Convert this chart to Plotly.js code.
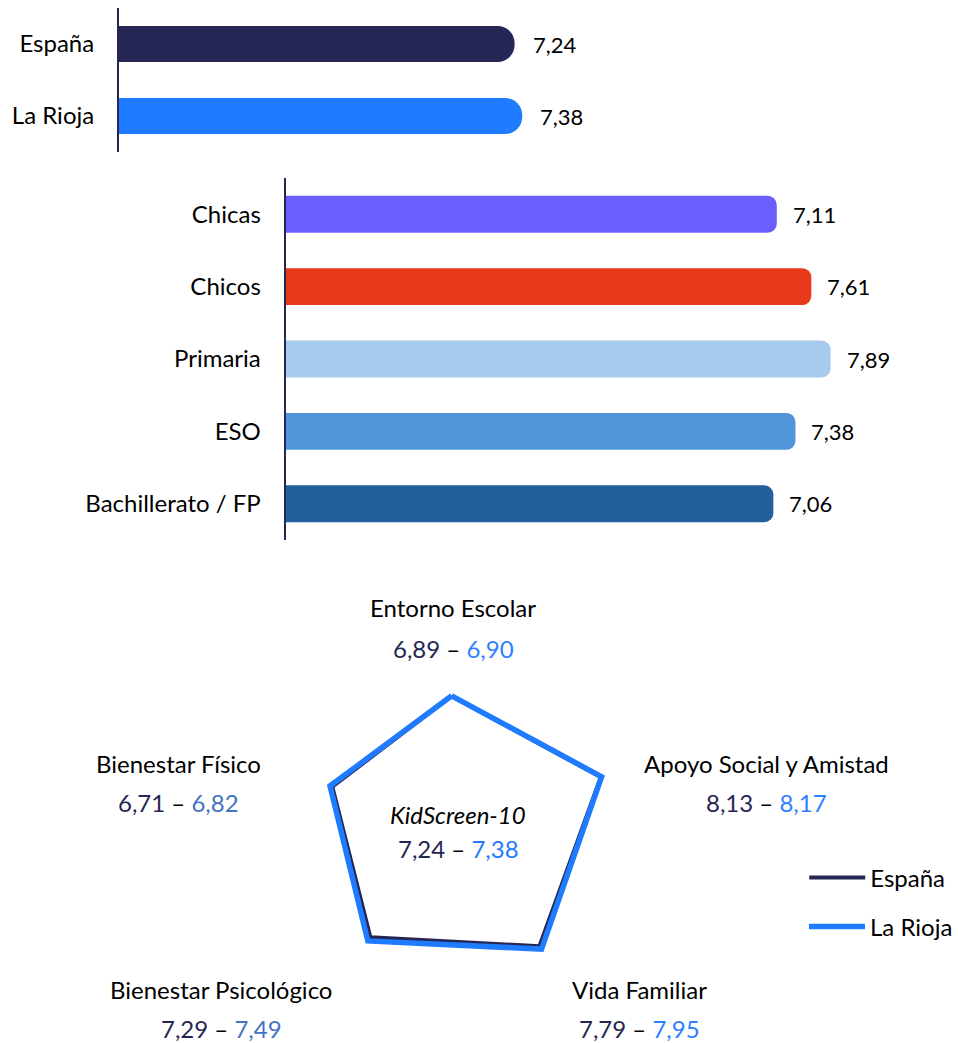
<!DOCTYPE html>
<html>
<head>
<meta charset="utf-8">
<script src="https://cdn.plot.ly/plotly-3.0.1.min.js"></script>
<style>html,body{margin:0;padding:0;background:#fff}#chart{width:958px;height:1043px}</style>
</head>
<body>
<div id="chart"></div>
<script>
// ---- data ----
const topCats = ['España', 'La Rioja'];
const topVals = [7.24, 7.38];
const midCats = ['Chicas', 'Chicos', 'Primaria', 'ESO', 'Bachillerato / FP'];
const midVals = [7.11, 7.61, 7.89, 7.38, 7.06];
const dims = ['Entorno Escolar', 'Apoyo Social y Amistad', 'Vida Familiar', 'Bienestar Psicológico', 'Bienestar Físico'];
const espanaDims = [6.89, 8.13, 7.79, 7.29, 6.71];
const riojaDims = [6.90, 8.17, 7.95, 7.49, 6.82];
const kidTitle = 'KidScreen-10';
const seriesNames = ['España', 'La Rioja'];

// ---- styles ----
const W = 958, H = 1043;
const NAVY = '#262654';
const BLUE = '#1F7BFF';
const topColors = [NAVY, BLUE];
const midColors = ['#6B5EFF', '#E63A1A', '#A7CBEC', '#5095D9', '#225F9C'];
const dimRightColors = ['#2F80FF', '#2F80FF', '#2F80FF', '#4472C4', '#4472C4'];
const FONT = 'Lato, "Open Sans", sans-serif';
const FS = 24;      // words
const FSN = 22;     // bar value labels
const fmt = v => v.toFixed(2).replace('.', ',');
const px = x => x / W;
const py = y => 1 - y / H;

const traces = [
  {type: 'bar', orientation: 'h', x: topVals, y: topCats, xaxis: 'x', yaxis: 'y',
   marker: {color: topColors, cornerradius: 17}, width: 0.5, showlegend: false, hoverinfo: 'skip'},
  {type: 'bar', orientation: 'h', x: midVals, y: midCats, xaxis: 'x2', yaxis: 'y2',
   marker: {color: midColors, cornerradius: 9}, width: 0.51, showlegend: false, hoverinfo: 'skip'},
  {type: 'scatterpolar', mode: 'lines', name: seriesNames[0],
   r: espanaDims.concat([espanaDims[0]]), theta: dims.concat([dims[0]]),
   line: {color: NAVY, width: 4}, legend: 'legend'},
  {type: 'scatterpolar', mode: 'lines', name: seriesNames[1],
   r: riojaDims.concat([riojaDims[0]]), theta: dims.concat([dims[0]]),
   line: {color: BLUE, width: 5.5}, legend: 'legend2'}
];

const annotations = [];
topVals.forEach((v, i) => annotations.push({xref: 'x', yref: 'y', x: v, y: topCats[i], text: fmt(v),
  showarrow: false, xanchor: 'left', xshift: 16, font: {size: FSN, color: '#000'}}));
midVals.forEach((v, i) => annotations.push({xref: 'x2', yref: 'y2', x: v, y: midCats[i], text: fmt(v),
  showarrow: false, xanchor: 'left', xshift: 14, font: {size: FSN, color: '#000'}}));

// radar labels: [x, y of name, y of values]
const labelPos = [[457, 607, 648], [773, 763, 802], [645, 989, 1028], [223, 989, 1028], [180, 763, 802]];
dims.forEach((d, i) => {
  const p = labelPos[i];
  annotations.push({xref: 'paper', yref: 'paper', x: px(p[0]), y: py(p[1]), text: d, showarrow: false,
    xanchor: 'center', yanchor: 'middle', font: {size: FS, color: '#000'}});
  annotations.push({xref: 'paper', yref: 'paper', x: px(p[0]), y: Math.max(py(p[2]), 15 / H),
    text: '<span style="color:' + NAVY + '">' + fmt(espanaDims[i]) + '</span> – <span style="color:' + dimRightColors[i] + '">' + fmt(riojaDims[i]) + '</span>',
    showarrow: false, xanchor: 'center', yanchor: 'middle', font: {size: FS, color: '#000'}});
});
annotations.push({xref: 'paper', yref: 'paper', x: px(462), y: py(814), text: '<i>' + kidTitle + '</i>',
  showarrow: false, xanchor: 'center', yanchor: 'middle', font: {size: FS, color: '#000'}});
annotations.push({xref: 'paper', yref: 'paper', x: px(462), y: py(848),
  text: '<span style="color:' + NAVY + '">' + fmt(topVals[0]) + '</span> – <span style="color:' + BLUE + '">' + fmt(topVals[1]) + '</span>',
  showarrow: false, xanchor: 'center', yanchor: 'middle', font: {size: FS, color: '#000'}});

const cx = 455.5, cy = 825.5, R = 184;
const layout = {
  width: W, height: H, margin: {l: 0, r: 0, t: 0, b: 0},
  paper_bgcolor: '#fff', plot_bgcolor: 'rgba(0,0,0,0)',
  font: {family: FONT, size: FS, color: '#000'},
  separators: ',.',
  xaxis: {domain: [px(120), px(671)], range: [0, 10], visible: false, fixedrange: true, anchor: 'y'},
  yaxis: {domain: [py(152), py(8)], range: [1.5, -0.5], type: 'category', anchor: 'x', showline: true, linecolor: NAVY, linewidth: 2,
    showgrid: false, zeroline: false, ticks: '', ticklabelstandoff: 18, automargin: false, tickfont: {size: FS, color: '#000'}},
  xaxis2: {domain: [px(288), px(915)], range: [0, 9], visible: false, fixedrange: true, anchor: 'y2'},
  yaxis2: {domain: [py(540), py(178)], range: [4.5, -0.5], type: 'category', anchor: 'x2', showline: true, linecolor: NAVY, linewidth: 2,
    showgrid: false, zeroline: false, ticks: '', ticklabelstandoff: 18, automargin: false, tickfont: {size: FS, color: '#000'}},
  polar: {
    domain: {x: [px(cx - R), px(cx + R)], y: [py(cy + R), py(cy - R)]},
    bgcolor: 'rgba(0,0,0,0)',
    radialaxis: {range: [1, 9.3], visible: false, showgrid: false, showline: false, showticklabels: false, ticks: ''},
    angularaxis: {rotation: 90, direction: 'clockwise', showgrid: false, showline: false, showticklabels: false, ticks: ''}
  },
  legend: {x: px(811), y: py(878), xanchor: 'left', yanchor: 'middle', bgcolor: 'rgba(0,0,0,0)', itemwidth: 56,
    font: {size: FS, color: '#000'}},
  legend2: {x: px(811), y: py(927), xanchor: 'left', yanchor: 'middle', bgcolor: 'rgba(0,0,0,0)', itemwidth: 56,
    font: {size: FS, color: '#000'}},
  showlegend: true,
  annotations: annotations
};
Plotly.newPlot('chart', traces, layout, {staticPlot: true, displayModeBar: false});
</script>
</body>
</html>
